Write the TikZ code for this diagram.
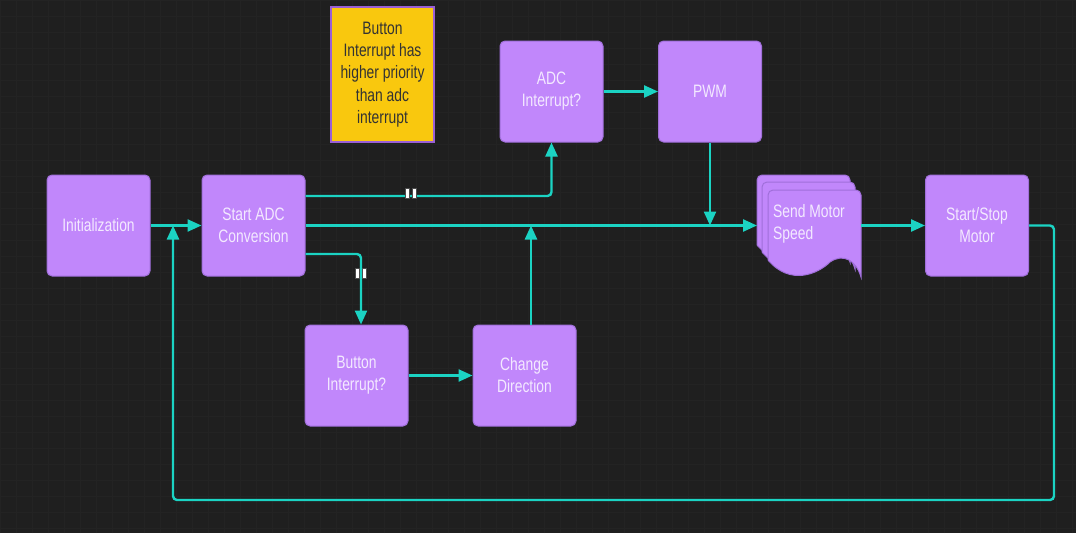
\documentclass[tikz,border=0pt]{standalone}
\usepackage{fontspec}
\setmainfont{Liberation Sans}[FakeStretch=0.77]
\usetikzlibrary{arrows.meta}
\definecolor{bg}{HTML}{1F1F1F}
\definecolor{gridc}{HTML}{232323}
\definecolor{boxfill}{HTML}{C187FB}
\definecolor{boxline}{HTML}{A06FDA}
\definecolor{boxtext}{HTML}{F3E9FF}
\definecolor{teal}{HTML}{1BD3C3}
\definecolor{notefill}{HTML}{F9C80E}
\definecolor{noteline}{HTML}{9A5FD6}
\definecolor{notetext}{HTML}{333333}
\tikzset{
  procbox/.style={draw=boxline, line width=1pt, fill=boxfill, rounded corners=5pt,
    minimum width=103pt, minimum height=101pt, inner sep=0pt, align=center,
    text=boxtext, font=\fontsize{18}{22}\selectfont},
  notebox/.style={draw=noteline, line width=1.5pt, fill=notefill,
    minimum width=103pt, minimum height=135pt, inner sep=0pt, align=center,
    text=notetext, font=\fontsize{18}{22.3}\selectfont},
  conn/.style={draw=teal, line width=2.4pt, rounded corners=4pt},
  arr/.style={conn, -{Triangle[length=14pt,width=12pt]}},
  docstyle/.style={draw=boxline, line width=1pt, fill=boxfill},
  ghost/.style={minimum width=93pt, minimum height=87pt, inner sep=0pt, anchor=north west},
  docpage/.pic={
    \path[docstyle] (0,70) [rounded corners=5pt]-- (0,0) -- (93,0) [sharp corners]-- (93,87)
      .. controls (88,70) and (75,63) .. (62,72)
      .. controls (50,84) and (22,96) .. (0,70) -- cycle;
  },
  pausemark/.pic={
    \path[fill=white, draw=black!70, line width=0.5pt] (-5.5,-5) rectangle (-1.5,5);
    \path[fill=white, draw=black!70, line width=0.5pt] (1.5,-5) rectangle (5.5,5);
  }
}
\begin{document}
\begin{tikzpicture}[x=1pt,y=-1pt]
\useasboundingbox (0,0) rectangle (1076,533);
\fill[bg] (0,0) rectangle (1076,533);
\draw[gridc, line width=0.6pt] (0,0) grid[step=16pt] (1076,533);

% nodes
\node[procbox] (init) at (98.5,225.5) {Initialization};
\node[procbox] (sadc) at (253.5,225.5) {Start ADC\\Conversion};
\node[procbox] (adc) at (551.5,91.5) {ADC\\Interrupt?};
\node[procbox] (pwm) at (710,91.5) {PWM};
\node[procbox] (btn) at (356.5,375.5) {Button\\Interrupt?};
\node[procbox] (chg) at (524.5,375.5) {Change\\Direction};
\node[procbox] (stst) at (977,225.5) {Start/Stop\\Motor};
\node[notebox] (note) at (382.5,74.5) {Button\\Interrupt has\\higher priority\\than adc\\interrupt};

% document stack
\pic at (757,175) {docpage};
\pic at (762,182) {docpage};
\pic at (768,190) {docpage};
\node[ghost] (smsback) at (757,175) {};
\node[ghost] (sms) at (768,190) {};
\node[anchor=west, inner sep=0pt, align=left, text=boxtext, font=\fontsize{18}{22}\selectfont] (smstext) at (773,224) {Send Motor\\Speed};

% connectors
\draw[arr] ([yshift=29.5pt]sadc.east) -| (adc.south);
\draw[arr] (init.east) -- (sadc.west);
\draw[arr] (sadc.east) -- (sadc.east -| smsback.west);
\draw[arr] ([yshift=-28.5pt]sadc.east) -| ([xshift=4.5pt]btn.north);
\draw[arr] (btn.east) -- (chg.west);
\draw[arr] ([xshift=6.5pt]chg.north) -- ([xshift=6.5pt]chg.north |- sadc.east);
\draw[arr] (adc.east) -- (pwm.west);
\draw[arr] (pwm.south) -- (pwm.south |- sadc.east);
\draw[arr] (sms.east |- stst.west) -- (stst.west);
\coordinate (loopR) at (1054,500);
\coordinate (loopL) at (173,500);
\draw[arr] (stst.east) -| (loopR) -- (loopL) -- (loopL |- init.east);

% pause marks
\pic at (410.5,193) {pausemark};
\pic at (361,273) {pausemark};
\end{tikzpicture}
\end{document}
